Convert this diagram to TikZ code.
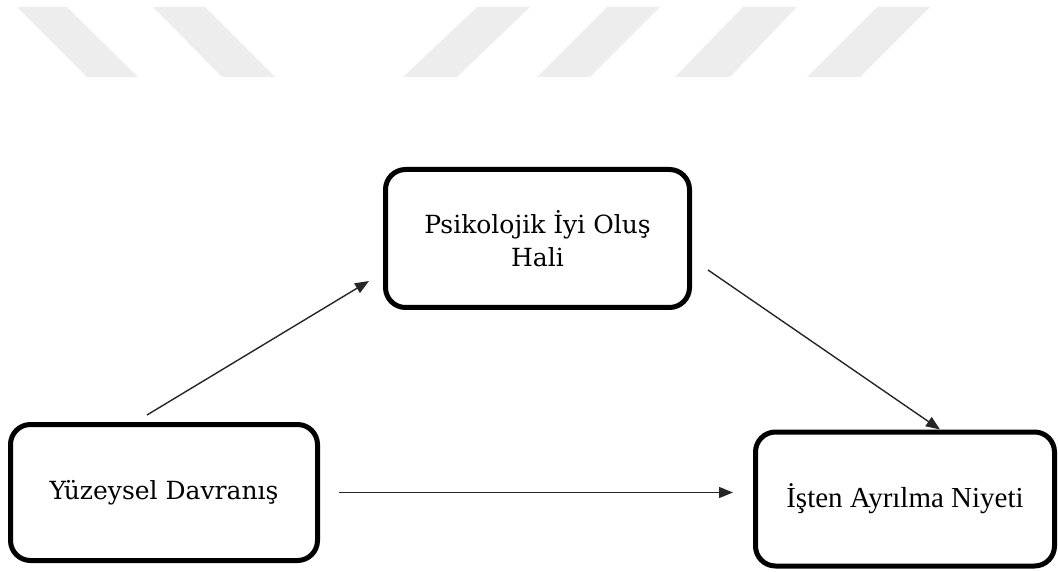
\documentclass[tikz,border=0pt]{standalone}
\usepackage{fontspec}
\setmainfont{DejaVu Serif}
\newfontfamily\timesfont{Liberation Serif}
\usetikzlibrary{arrows.meta}
\begin{document}
\begin{tikzpicture}[x=1pt,y=1pt,
  box/.style={draw=black,line width=5pt,rounded corners=20pt,inner sep=0pt,
    align=center,fill=white},
  arr/.style={line width=1.4pt,draw=black!85,-{Triangle[length=14pt,width=11pt]}},
  stripe/.style={fill=black!7,draw=none}]
\useasboundingbox (0,0) rectangle (1058,571);
% light diagonal band pattern along the top edge
\fill[stripe] (17,564) -- (67,564) -- (138,494) -- (87,494) -- cycle;
\fill[stripe] (153,564) -- (205,564) -- (275,494) -- (222,494) -- cycle;
\fill[stripe] (477,564) -- (530,564) -- (457,494) -- (403,494) -- cycle;
\fill[stripe] (607,564) -- (660,564) -- (590,494) -- (537,494) -- cycle;
\fill[stripe] (743,564) -- (797,564) -- (730,494) -- (675,494) -- cycle;
\fill[stripe] (877,564) -- (930,564) -- (860,494) -- (807,494) -- cycle;
% the three constructs
\node[box,minimum width=304pt,minimum height=138pt,font=\fontsize{25}{33}\selectfont]
  (pi) at (537.5,332.5) {Psikolojik İyi Oluş\\Hali};
\node[box,minimum width=307pt,minimum height=136pt,font=\fontsize{25}{30}\selectfont]
  (yd) at (164,78.5) {Yüzeysel Davranış};
\node[box,minimum width=299pt,minimum height=134pt,font=\timesfont\fontsize{29}{34}\selectfont]
  (ia) at (905,72) {İşten Ayrılma Niyeti};
% paths between the constructs
\coordinate (a1s) at ([shift={(-17pt,7pt)}]yd.north);
\coordinate (a1e) at ([shift={(-14pt,-42.5pt)}]pi.west);
\coordinate (a2s) at ([shift={(16pt,-31.5pt)}]pi.east);
\coordinate (a2e) at ([xshift=35pt]ia.north);
\coordinate (a3s) at ([xshift=19pt]yd.east);
\coordinate (a3e) at ([xshift=-20pt]a3s -| ia.west);
\draw[arr] (a1s) -- (a1e);
\draw[arr] (a2s) -- (a2e);
\draw[arr] (a3s) -- (a3e);
\end{tikzpicture}
\end{document}
